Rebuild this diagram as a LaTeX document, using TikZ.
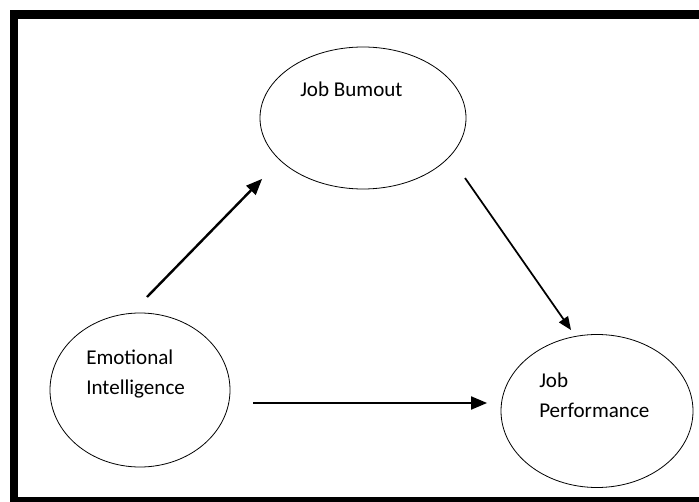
\documentclass[tikz,border=0pt]{standalone}
\usepackage{fontspec}
\setmainfont{Carlito}
\usetikzlibrary{shapes,arrows}

\begin{document}
\begin{tikzpicture}[x=0.75pt,y=-0.75pt, draw=black!100]
	\def \toprow{118}
	\def \lowrow{390}
	%\def \midrow{403}
	\tikzstyle{e-node}=[ellipse,draw,line width=0.6pt,inner sep=0pt]
	\tikzstyle{t-node}=[inner sep=0pt,align=left,anchor=west,font=\fontsize{15.8}{22.5}\selectfont]
	\tikzstyle{arr}=[-triangle 45,line width=1.8pt]
	\useasboundingbox (0,0) rectangle (699,502);
	% frame
	\fill (10,10) rectangle (699,19);
	\fill (10,10) rectangle (18,502);
	\fill (10,497) rectangle (699,502);

	% variables
	\node[e-node,minimum width=154.5pt,minimum height=106.5pt]	(jb)	at (363,\toprow)	{};
	\node[e-node,minimum width=135pt,minimum height=115.5pt]	(ei)	at (140,\lowrow)	{};
	\node[e-node,minimum width=144pt,minimum height=114.75pt]	(jp)	at (597,411)	{};

	% labels
	\node[t-node]	(jbtext)	at (300,89)	{Job Bumout};
	\node[t-node]	(eitext)	at (86,374)	{Emotional\\Intelligence};
	\node[t-node]	(jptext)	at (539,395)	{Job\\Performance};

	% arrow ends
	\coordinate (a1) at (147,297);
	\coordinate (b1) at (262,179);
	\coordinate (a2) at (465,178);
	\coordinate (b2) at (571,330);
	\coordinate (a3) at (253,403);
	\coordinate (b3) at (487,403);

	\path
		(a1)	edge[arr]	node	{}	(b1)
		(a2)	edge[arr,line width=1.3pt]	node	{}	(b2)
		(a3)	edge[arr]	node	{}	(b3);
\end{tikzpicture}
\end{document}
